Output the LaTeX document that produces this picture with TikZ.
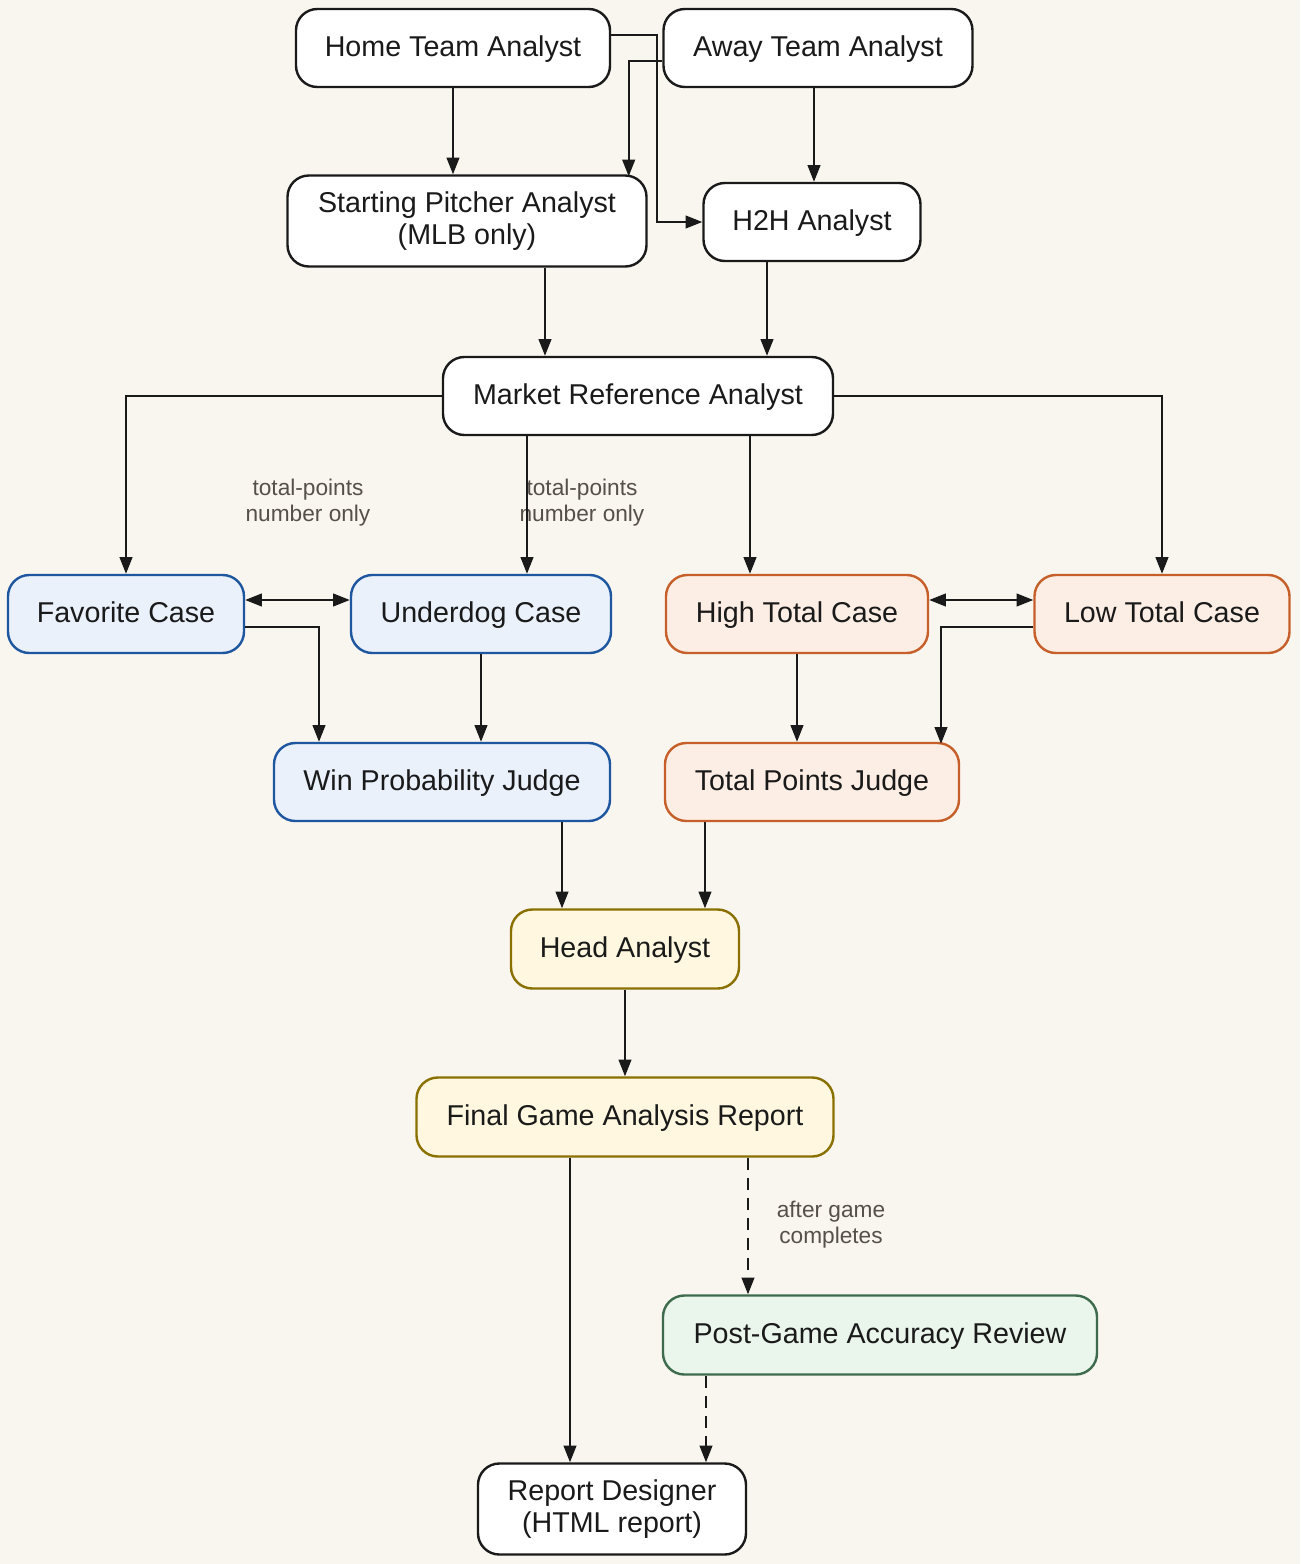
\documentclass[tikz,border=0pt]{standalone}
\usepackage{fontspec}
\setmainfont{Liberation Sans}
\usetikzlibrary{arrows.meta,calc}
\definecolor{bg}{HTML}{F9F6EF}
\definecolor{ink}{HTML}{1A1A1A}
\definecolor{bluefill}{HTML}{EAF1FB}
\definecolor{bluedraw}{HTML}{1F56A0}
\definecolor{orfill}{HTML}{FCEEE4}
\definecolor{ordraw}{HTML}{C65F2A}
\definecolor{yefill}{HTML}{FFF7DF}
\definecolor{yedraw}{HTML}{8A7000}
\definecolor{grfill}{HTML}{EAF5EC}
\definecolor{grdraw}{HTML}{3E6B4D}
\definecolor{lbl}{HTML}{555049}
\begin{document}
\begin{tikzpicture}[x=0.75pt,y=-0.75pt,
  box/.style 2 args={draw=ink,fill=white,line width=1.8pt,rounded corners=16pt,
    minimum width=#1*0.75pt,minimum height=#2*0.75pt,inner sep=0pt,align=center,
    text=ink,font=\fontsize{21.5}{24}\selectfont},
  one/.style={text height=16pt,text depth=4pt},
  blue/.style={draw=bluedraw,fill=bluefill,one},
  orange/.style={draw=ordraw,fill=orfill,one},
  yellow/.style={draw=yedraw,fill=yefill,one},
  green/.style={draw=grdraw,fill=grfill,one},
  arr/.style={draw=ink,line width=1.5pt,-{Triangle[length=12.5pt,width=9.5pt]}},
  darr/.style={draw=ink,line width=1.5pt,{Triangle[length=12.5pt,width=9.5pt]}-{Triangle[length=12.5pt,width=9.5pt]}},
  dsh/.style={dash pattern=on 9pt off 6pt},
  elab/.style={text=lbl,align=center,font=\fontsize{17}{19.5}\selectfont,inner sep=0pt}]
\fill[bg] (0,0) rectangle (1300,1564);
\useasboundingbox (0,0) rectangle (1300,1564);

\node[box={314}{78},one] (home) at (453,48) {Home Team Analyst};
\node[box={309}{78},one] (away) at (818,48) {Away Team Analyst};
\node[box={359}{91}] (start) at (467,221) {Starting Pitcher Analyst\\(MLB only)};
\node[box={217}{78},one] (h2h) at (812,222) {H2H Analyst};
\node[box={390}{78},one] (market) at (638,396) {Market Reference Analyst};
\node[box={236}{78},blue] (fav) at (126,614) {Favorite Case};
\node[box={260}{78},blue] (under) at (481,614) {Underdog Case};
\node[box={262}{78},orange] (high) at (797,614) {High Total Case};
\node[box={255}{78},orange] (low) at (1162,614) {Low Total Case};
\node[box={336}{78},blue] (win) at (442,782) {Win Probability Judge};
\node[box={294}{78},orange] (total) at (812,782) {Total Points Judge};
\node[box={228}{79},yellow] (head) at (625,949) {Head Analyst};
\node[box={417}{79},yellow] (final) at (625,1117) {Final Game Analysis Report};
\node[box={434}{79},green] (post) at (880,1335) {Post-Game Accuracy Review};
\node[box={268}{91}] (report) at (612,1509) {Report Designer\\(HTML report)};

\node[elab] (l1) at (308,503) {total-points\\number only};
\node[elab] (l2) at (582,503) {total-points\\number only};
\node[elab] (l3) at (831,1225) {after game\\completes};

% top
\draw[arr] (home.south) -- (home.south |- start.north);
\draw[arr] ($(home.east)+(0,-13)$) -- ++(46,0) |- (h2h.west);
\draw[arr] ($(away.west)+(0,13)$) -| ($(start.north east)+(-19,2)$);
\draw[arr] ($(away.south)+(-4,0)$) -- ($(h2h.north)+(2,0)$);
\draw[arr] ($(start.south)+(78,0)$) -- ($(market.north)+(-93,0)$);
\draw[arr] ($(h2h.south)+(-45,0)$) -- ($(market.north)+(129,0)$);
% market
\draw[arr] (market.west) -| (fav.north);
\draw[arr] ($(market.south)+(-111,0)$) -- ($(under.north)+(46,0)$);
\draw[arr] ($(market.south)+(112,0)$) -- ($(high.north)+(-47,0)$);
\draw[arr] (market.east) -| (low.north);
% cases
\draw[darr] ($(fav.east)+(0,-14)$) -- ($(under.west)+(0,-14)$);
\draw[darr] ($(high.east)+(0,-14)$) -- ($(low.west)+(0,-14)$);
\draw[arr] ($(fav.east)+(0,13)$) -| ($(win.north)+(-123,0)$);
\draw[arr] (under.south) -- ($(win.north)+(39,0)$);
\draw[arr] (high.south) -- ($(total.north)+(-15,0)$);
\draw[arr] ($(low.west)+(0,13)$) -| ($(total.north)+(129,2)$);
% judges
\draw[arr] ($(win.south)+(120,0)$) -- ($(head.north)+(-63,0)$);
\draw[arr] ($(total.south)+(-107,0)$) -- ($(head.north)+(80,0)$);
\draw[arr] (head.south) -- (head.south |- final.north);
% bottom
\draw[arr] ($(final.south)+(-55,0)$) -- ($(report.north)+(-42,0)$);
\draw[arr,dsh] ($(final.south)+(123,0)$) -- ($(post.north)+(-132,0)$);
\draw[arr,dsh] ($(post.south)+(-174,0)$) -- ($(report.north)+(94,0)$);
\end{tikzpicture}
\end{document}
